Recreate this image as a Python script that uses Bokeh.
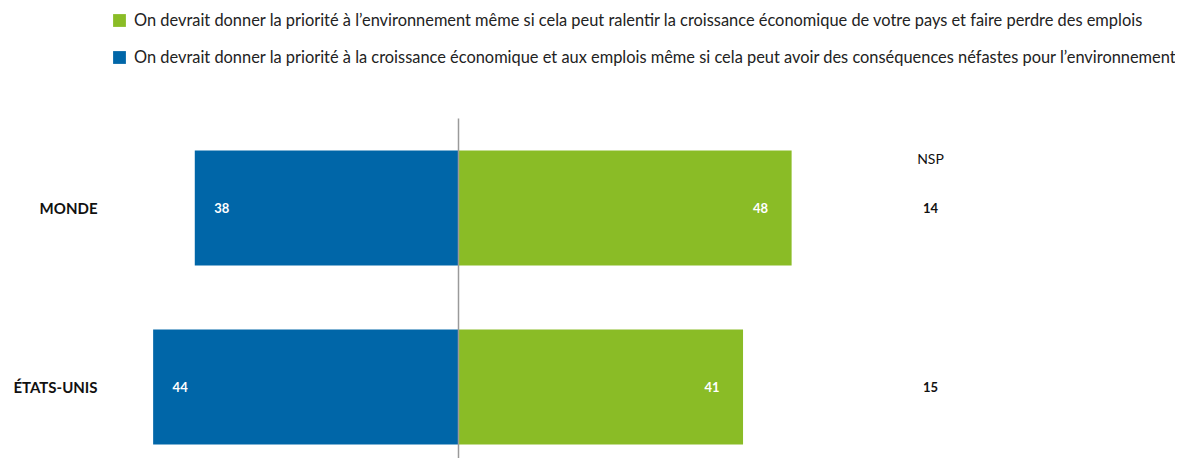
from bokeh.plotting import figure
from bokeh.models import Range1d, ColumnDataSource, Legend, LegendItem
from bokeh.core.properties import value
from bokeh.embed import file_html
from bokeh.resources import INLINE

categories = ["MONDE", "ÉTATS-UNIS"]
economie = [38, 44]
environnement = [48, 41]
nsp = [14, 15]
label_env = "On devrait donner la priorité à l’environnement même si cela peut ralentir la croissance économique de votre pays et faire perdre des emplois"
label_eco = "On devrait donner la priorité à la croissance économique et aux emplois même si cela peut avoir des conséquences néfastes pour l’environnement"
nsp_title = "NSP"

BLUE = "#0066A8"
GREEN = "#8ABC26"
FONT = "Lato"

W, H = 1175, 458
PX_PER_UNIT = 6.94
ZERO_PX = 458
x0 = -ZERO_PX / PX_PER_UNIT
x1 = x0 + W / PX_PER_UNIT
ROW = 179.0
y_top = -207.5 / ROW
y_bot = y_top + H / ROW
BAR_H = 115 / ROW
NSP_X = (930 - ZERO_PX) / PX_PER_UNIT

idx = list(range(len(categories)))
src = ColumnDataSource(dict(
    y=idx, cat=categories,
    eco_left=[-v for v in economie], eco=economie,
    env=environnement, nsp=[str(v) for v in nsp],
    eco_lbl=[str(v) for v in economie], env_lbl=[str(v) for v in environnement],
    zero=[0] * len(idx), nspx=[NSP_X] * len(idx), catx=[x0] * len(idx),
))

p = figure(width=W, height=H, output_backend="svg", toolbar_location=None,
           x_range=Range1d(x0, x1), y_range=Range1d(y_bot, y_top),
           min_border=0, min_border_left=0, min_border_right=0,
           min_border_top=0, min_border_bottom=0)
p.axis.visible = False
p.grid.visible = False
p.outline_line_color = None
p.background_fill_color = "white"

r_eco = p.hbar(y="y", left="eco_left", right="zero", height=BAR_H, source=src,
               fill_color=BLUE, line_color=None)
r_env = p.hbar(y="y", left="zero", right="env", height=BAR_H, source=src,
               fill_color=GREEN, line_color=None)

# center line
p.segment(x0=0, y0=-0.5, x1=0, y1=y_bot, line_color="#9a9a9a", line_width=1.5)

# bar values
p.text(x="eco_left", y="y", text="eco_lbl", source=src, x_offset=27,
       text_align="center", text_baseline="middle", text_color="white",
       text_font=value(FONT), text_font_size="13px", text_font_style="bold")
p.text(x="env", y="y", text="env_lbl", source=src, x_offset=-31,
       text_align="center", text_baseline="middle", text_color="white",
       text_font=value(FONT), text_font_size="13px", text_font_style="bold")

# category labels
p.text(x="catx", y="y", text="cat", source=src, x_offset=97,
       text_align="right", text_baseline="middle", text_color="#111111",
       text_font=value(FONT), text_font_size="15px", text_font_style="bold")

# NSP column
p.text(x="nspx", y="y", text="nsp", source=src,
       text_align="center", text_baseline="middle", text_color="#111111",
       text_font=value(FONT), text_font_size="13px", text_font_style="bold")
p.text(x=[NSP_X], y=[-BAR_H / 2], text=[nsp_title], y_offset=8,
       text_align="center", text_baseline="middle", text_color="#111111",
       text_font=value(FONT), text_font_size="14px")

legend = Legend(items=[LegendItem(label=label_env, renderers=[r_env]),
                       LegendItem(label=label_eco, renderers=[r_eco])],
                location=(111, 392), orientation="vertical",
                glyph_width=16, glyph_height=16, label_height=16,
                label_standoff=7, spacing=18, padding=0, margin=0,
                border_line_color=None, background_fill_alpha=0,
                label_text_font=FONT, label_text_font_size="16.4px",
                label_text_color="#222222", label_text_baseline="middle")
p.add_layout(legend, "center")

open("out.html", "w").write(file_html(p, INLINE))
